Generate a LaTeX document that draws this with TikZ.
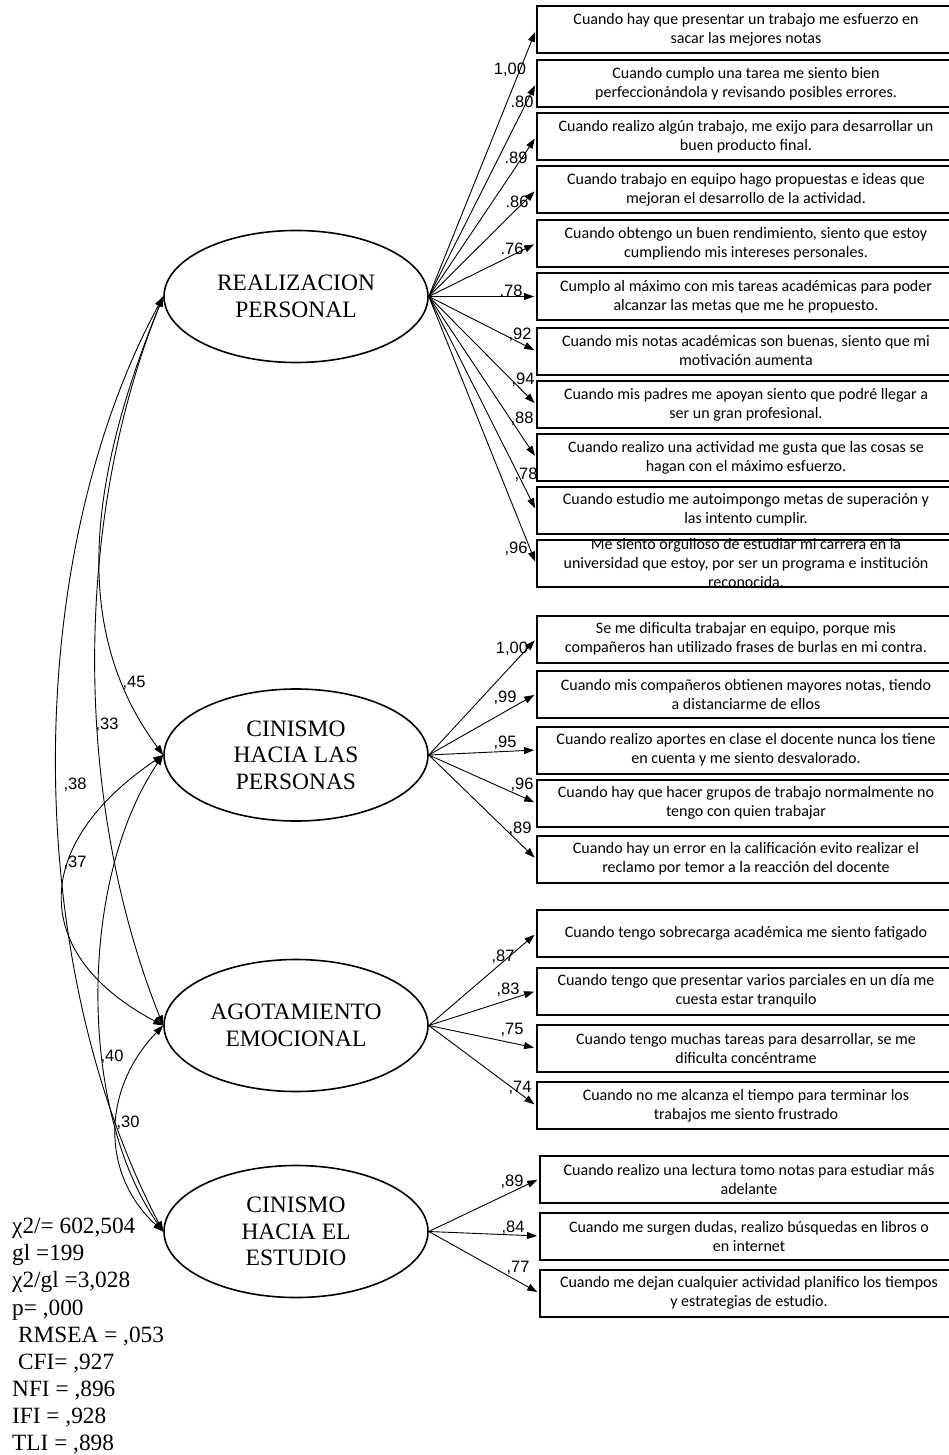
\documentclass[tikz,border=0pt]{standalone}
\usepackage{fontspec}
\usepackage{tikz}
\usepackage{xcolor}
\usetikzlibrary{shapes.geometric,arrows.meta}
\setmainfont{Liberation Serif}
\newfontfamily\boxfont{Carlito}
\newfontfamily\numfont{Liberation Sans}

\begin{document}
\begin{tikzpicture}[x=1pt,y=-1pt,
    factor/.style={draw, ellipse, line width=1.6pt, minimum width=264pt, minimum height=132pt,
      inner sep=0pt, align=center, font=\fontsize{23.5}{26.5}\selectfont},
    itembox/.style={draw, line width=2pt, minimum width=418pt, minimum height=47pt,
      inner sep=0pt, align=center, font=\boxfont\fontsize{16}{19}\selectfont},
    itemtext/.style={inner sep=0pt, align=center, font=\boxfont\fontsize{16}{19}\selectfont},
    coef/.style={inner sep=0pt, font=\numfont\fontsize{16.5}{18}\selectfont},
    loading/.style={line width=0.9pt, shorten >=2pt, -{Triangle[length=10pt,width=7pt]}},
    covar/.style={line width=0.9pt, {Triangle[length=10pt,width=7pt]}-{Triangle[length=10pt,width=7pt]}}]
            \useasboundingbox (0,0) rectangle (948,1455);

            % draw factors
            \node[factor] (rp) at (296,296.5) {REALIZACION\\PERSONAL};
            \node[factor] (chp) at (296,755) {CINISMO\\HACIA LAS\\PERSONAS};
            \node[factor] (ae) at (296,1025.5) {AGOTAMIENTO\\EMOCIONAL};
            \node[factor] (che) at (296,1231.5) {CINISMO\\HACIA EL\\ESTUDIO};

            % draw items
            \node[itembox] (i1) at (746,30) {Cuando hay que presentar un trabajo me esfuerzo en\\sacar las mejores notas};
            \node[itembox] (i2) at (746,83.5) {Cuando cumplo una tarea me siento bien\\perfeccionándola y revisando posibles errores.};
            \node[itembox] (i3) at (746,137) {Cuando realizo algún trabajo, me exijo para desarrollar un\\buen producto final.};
            \node[itembox] (i4) at (746,190) {Cuando trabajo en equipo hago propuestas e ideas que\\mejoran el desarrollo de la actividad.};
            \node[itembox] (i5) at (746,243.5) {Cuando obtengo un buen rendimiento, siento que estoy\\cumpliendo mis intereses personales.};
            \node[itembox] (i6) at (746,296.5) {Cumplo al máximo con mis tareas académicas para poder\\alcanzar las metas que me he propuesto.};
            \node[itembox] (i7) at (746,351) {Cuando mis notas académicas son buenas, siento que mi\\motivación aumenta};
            \node[itembox] (i8) at (746,404.5) {Cuando mis padres me apoyan siento que podré llegar a\\ser un gran profesional.};
            \node[itembox] (i9) at (746,457.5) {Cuando realizo una actividad me gusta que las cosas se\\hagan con el máximo esfuerzo.};
            \node[itembox] (i10) at (746,510) {Cuando estudio me autoimpongo metas de superación y\\las intento cumplir.};
            \node[itembox] (i11) at (746,563.5) {};
            \node[itemtext] (t11) at (i11) {Me siento orgulloso de estudiar mi carrera en la\\universidad que estoy, por ser un programa e institución\\reconocida.};

            \node[itembox] (i12) at (746,639) {Se me dificulta trabajar en equipo, porque mis\\compañeros han utilizado frases de burlas en mi contra.};
            \node[itembox] (i13) at (746,694) {Cuando mis compañeros obtienen mayores notas, tiendo\\a distanciarme de ellos};
            \node[itembox] (i14) at (746,750) {Cuando realizo aportes en clase el docente nunca los tiene\\en cuenta y me siento desvalorado.};
            \node[itembox] (i15) at (746,803) {Cuando hay que hacer grupos de trabajo normalmente no\\tengo con quien trabajar};
            \node[itembox] (i16) at (746,859) {Cuando hay un error en la calificación evito realizar el\\reclamo por temor a la reacción del docente};

            \node[itembox] (i17) at (746,933.5) {Cuando tengo sobrecarga académica me siento fatigado};
            \node[itembox] (i18) at (746,991) {Cuando tengo que presentar varios parciales en un día me\\cuesta estar tranquilo};
            \node[itembox] (i19) at (746,1048) {Cuando tengo muchas tareas para desarrollar, se me\\dificulta concéntrame};
            \node[itembox] (i20) at (746,1105.5) {Cuando no me alcanza el tiempo para terminar los\\trabajos me siento frustrado};

            \node[itembox] (i21) at (749,1179) {Cuando realizo una lectura tomo notas para estudiar más\\adelante};
            \node[itembox] (i22) at (749,1236) {Cuando me surgen dudas, realizo búsquedas en libros o\\en internet};
            \node[itembox] (i23) at (749,1293) {Cuando me dejan cualquier actividad planifico los tiempos\\y estrategias de estudio.};

            % draw loadings
            \draw[loading] (rp.east) -- (i1.west);
            \draw[loading] (rp.east) -- (i2.west);
            \draw[loading] (rp.east) -- (i3.west);
            \draw[loading] (rp.east) -- (i4.west);
            \draw[loading] (rp.east) -- (i5.west);
            \draw[loading] (rp.east) -- (i6.west);
            \draw[loading] (rp.east) -- (i7.west);
            \draw[loading] (rp.east) -- (i8.west);
            \draw[loading] (rp.east) -- (i9.west);
            \draw[loading] (rp.east) -- (i10.west);
            \draw[loading] (rp.east) -- (i11.west);
            \draw[loading] (chp.east) -- (i12.west);
            \draw[loading] (chp.east) -- (i13.west);
            \draw[loading] (chp.east) -- (i14.west);
            \draw[loading] (chp.east) -- (i15.west);
            \draw[loading] (chp.east) -- (i16.west);
            \draw[loading] (ae.east) -- (i17.west);
            \draw[loading] (ae.east) -- (i18.west);
            \draw[loading] (ae.east) -- (i19.west);
            \draw[loading] (ae.east) -- (i20.west);
            \draw[loading] (che.east) -- (i21.west);
            \draw[loading] (che.east) -- (i22.west);
            \draw[loading] (che.east) -- (i23.west);

            \node[coef] (w1) at (510,70) {1,00};
            \node[coef] (w2) at (522,102) {.80};
            \node[coef] (w3) at (516,158) {.89};
            \node[coef] (w4) at (517,202) {.86};
            \node[coef] (w5) at (512,249) {.76};
            \node[coef] (w6) at (511,291) {.78};
            \node[coef] (w7) at (520,335) {,92};
            \node[coef] (w8) at (523,380) {,94};
            \node[coef] (w9) at (522,419) {,88};
            \node[coef] (w10) at (526,475) {,78};
            \node[coef] (w11) at (516,549) {,96};
            \node[coef] (w12) at (512,649) {1,00};
            \node[coef] (w13) at (505,698) {,99};
            \node[coef] (w14) at (505,743) {,95};
            \node[coef] (w15) at (522,785) {,96};
            \node[coef] (w16) at (520,829) {,89};
            \node[coef] (w17) at (503,957) {,87};
            \node[coef] (w18) at (508,990) {,83};
            \node[coef] (w19) at (512,1030) {,75};
            \node[coef] (w20) at (520,1088) {,74};
            \node[coef] (w21) at (512,1182) {,89};
            \node[coef] (w22) at (513,1228) {,84};
            \node[coef] (w23) at (518,1268) {,77};

            % draw covariances
            \draw[covar] (rp.west) .. controls (80,500) and (78,640) .. (chp.west);
            \draw[covar] (rp.west) .. controls (73,520) and (73,800) .. (ae.west);
            \draw[covar] (rp.west) .. controls (21,560) and (21,960) .. (che.west);
            \draw[covar] (chp.west) .. controls (30,845) and (30,955) .. (ae.west);
            \draw[covar] (chp.west) .. controls (78,880) and (78,1110) .. (che.west);
            \draw[covar] (ae.west) .. controls (101,1090) and (101,1175) .. (che.west);

            \node[coef] (r1) at (134,683) {,45};
            \node[coef] (r2) at (107,725) {,33};
            \node[coef] (r3) at (75,785) {,38};
            \node[coef] (r4) at (75,863) {,37};
            \node[coef] (r5) at (112,1057) {,40};
            \node[coef] (r6) at (128,1123) {,30};

            % fit indices
            \node[anchor=north west, inner sep=0pt, align=left, font=\fontsize{23.3}{27.1}\selectfont] (gof) at (12,1218)
              {χ2/= 602,504\\gl =199\\χ2/gl =3,028\\p= ,000\\\hspace{6pt}RMSEA = ,053\\\hspace{6pt}CFI= ,927\\NFI = ,896\\IFI = ,928\\TLI = ,898};
        \end{tikzpicture}
\end{document}
